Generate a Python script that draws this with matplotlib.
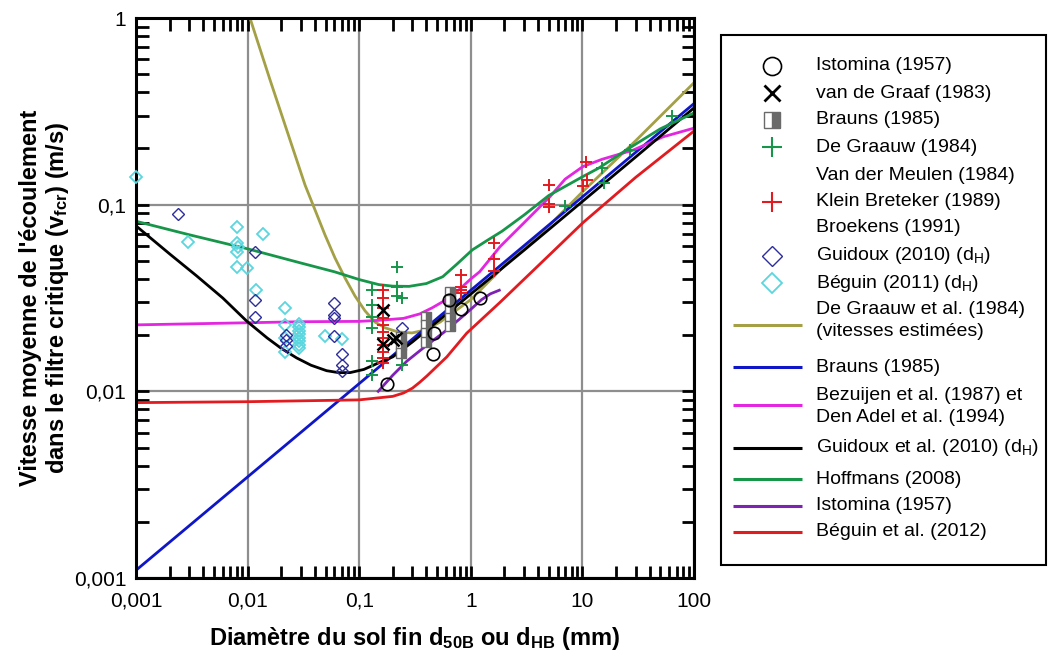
import matplotlib.pyplot as plt
import matplotlib.ticker as ticker
from matplotlib.patches import Rectangle

plt.rcParams['font.family'] = ['Liberation Sans', 'DejaVu Sans']
plt.rcParams['mathtext.fontset'] = 'custom'
plt.rcParams['mathtext.rm'] = 'Liberation Sans'
plt.rcParams['mathtext.it'] = 'Liberation Sans:italic'
plt.rcParams['mathtext.bf'] = 'Liberation Sans:bold'

# --- curves (d in mm, v in m/s) ---
graauw_est_x = [0.0105, 0.0159, 0.024, 0.0327, 0.0402, 0.0494, 0.0607, 0.0746, 0.0917,
                0.1127, 0.1385, 0.1703, 0.2227, 0.2972, 0.3888, 0.53, 0.7, 1, 2, 5, 10, 30, 100]
graauw_est_y = [1.0, 0.4655, 0.2221, 0.1275, 0.0937, 0.0688, 0.0518, 0.0405, 0.0324,
                0.0270, 0.0235, 0.0219, 0.0208, 0.02055, 0.0213, 0.0235, 0.0265, 0.031, 0.047,
                0.077, 0.117, 0.22, 0.45]

brauns_x = [0.001, 100]
brauns_y = [0.0011, 0.348]

bezuijen_x = [0.001, 0.01, 0.03, 0.1, 0.15, 0.25, 0.35, 0.45, 0.56, 0.7, 1.0, 1.2, 1.83, 3,
              5.1, 7, 10.1, 15, 28.5, 53, 100]
bezuijen_y = [0.0227, 0.0233, 0.0236, 0.0237, 0.0240, 0.0246, 0.026, 0.028, 0.0302, 0.0329,
              0.040, 0.0437, 0.0596, 0.08, 0.110, 0.137, 0.160, 0.175, 0.196, 0.231, 0.257]

guidoux_x = [0.001, 0.002, 0.0035, 0.006, 0.0098, 0.015, 0.02, 0.0275, 0.037, 0.051, 0.065,
             0.083, 0.11, 0.153, 0.2, 0.3, 1, 3, 10, 30, 100]
guidoux_y = [0.077, 0.0545, 0.0415, 0.0316, 0.0238, 0.0193, 0.0170, 0.0151, 0.0138, 0.0129,
             0.0126, 0.0126, 0.0131, 0.0143, 0.0153, 0.0184, 0.0332, 0.057, 0.104, 0.18, 0.33]

hoffmans_x = [0.001, 0.003, 0.01, 0.03, 0.06, 0.1, 0.15, 0.2, 0.28, 0.4, 0.56, 0.75, 1.03,
              1.4, 1.9, 3, 5, 10, 14, 26, 50, 100]
hoffmans_y = [0.0815, 0.069, 0.058, 0.0487, 0.0437, 0.0397, 0.0373, 0.0366, 0.0365, 0.0378,
              0.0411, 0.048, 0.0572, 0.0643, 0.072, 0.088, 0.112, 0.141, 0.157, 0.2, 0.255, 0.31]

istomina_line_x = [0.148, 0.2, 0.267, 0.4, 0.567, 0.8, 1.0, 1.25, 1.5, 1.8]
istomina_line_y = [0.0100, 0.0122, 0.0145, 0.0176, 0.0206, 0.0245, 0.0275, 0.031, 0.0333, 0.0348]

beguin12_x = [0.001, 0.01, 0.1, 0.2, 0.25, 0.3, 0.35, 0.405, 0.61, 0.92, 1.83, 5.1, 10.1, 30, 100]
beguin12_y = [0.0087, 0.0088, 0.0090, 0.0094, 0.0098, 0.0104, 0.0112, 0.0121, 0.0153, 0.0205,
              0.030, 0.054, 0.080, 0.14, 0.248]

# --- measurements ---
istomina_pts_x = [0.179, 0.457, 0.468, 0.641, 0.81, 1.2]
istomina_pts_y = [0.0109, 0.0158, 0.0206, 0.0309, 0.0276, 0.0318]

graaf_x = [0.164, 0.162, 0.20, 0.215]
graaf_y = [0.0273, 0.0179, 0.0188, 0.0192]

brauns_pts_x = [0.237, 0.237, 0.237, 0.394, 0.394, 0.394, 0.394,
                0.646, 0.646, 0.646, 0.646, 0.646]
brauns_pts_y = [0.0196, 0.0177, 0.0160, 0.0250, 0.0227, 0.0205, 0.0184,
                0.0341, 0.0309, 0.0273, 0.0247, 0.0224]

graauw_pts_x = [0.13, 0.13, 0.13, 0.13, 0.13, 0.13, 0.22, 0.22, 0.22, 0.24, 0.24,
                6.98, 14.9, 15.5, 26.9, 64]
graauw_pts_y = [0.035, 0.0289, 0.0249, 0.0218, 0.0145, 0.0123, 0.0464, 0.0364, 0.0325,
                0.0316, 0.0139, 0.0984, 0.157, 0.131, 0.196, 0.299]

meulen_x = [0.162, 0.162, 0.162, 0.162, 0.162, 0.162, 0.162, 0.162, 0.162, 0.162, 0.162,
            0.81, 0.81, 0.81, 0.81, 1.6, 1.6, 1.6, 5.06, 5.06, 5.06, 10.07, 10.8, 11.1]
meulen_y = [0.0349, 0.0316, 0.028, 0.0247, 0.0227, 0.0208, 0.0193, 0.0177, 0.0163, 0.0151,
            0.0142, 0.0418, 0.0363, 0.035, 0.0338, 0.0626, 0.051, 0.0441, 0.1275, 0.101,
            0.0968, 0.126, 0.17, 0.136]

guidoux_pts_x = [0.00236, 0.0117, 0.0117, 0.0117, 0.0219, 0.0219, 0.0219, 0.0594, 0.0594,
                 0.0594, 0.0594, 0.0706, 0.0706, 0.0706, 0.24]
guidoux_pts_y = [0.0892, 0.0556, 0.0309, 0.0249, 0.0200, 0.0188, 0.0174, 0.0296, 0.0256,
                 0.0246, 0.0198, 0.0159, 0.0139, 0.0129, 0.0219]

beguin11_x = [0.001, 0.00294, 0.0081, 0.008, 0.0082, 0.0081, 0.0081, 0.0099, 0.0138, 0.0119,
              0.0216, 0.0216, 0.0216, 0.0216, 0.0289, 0.0289, 0.0289, 0.0289, 0.0289, 0.0289,
              0.0289, 0.0289, 0.049, 0.070]
beguin11_y = [0.14, 0.0633, 0.0762, 0.0622, 0.0595, 0.0561, 0.0466, 0.0456, 0.0697, 0.035,
              0.0279, 0.0228, 0.0192, 0.0163, 0.0230, 0.0220, 0.0211, 0.0202, 0.0193, 0.0185,
              0.0177, 0.0170, 0.0197, 0.0190]

x_ticks = [0.001, 0.01, 0.1, 1, 10, 100]
x_ticklabels = ['0,001', '0,01', '0,1', '1', '10', '100']
y_ticks = [0.001, 0.01, 0.1, 1]
y_ticklabels = ['0,001', '0,01', '0,1', '1']

c_olive = '#a3a045'
c_blue = '#0e16c8'
c_pink = '#e326e0'
c_green = '#17964a'
c_purple = '#7d22b3'
c_red = '#e11b1f'
c_navy = '#2d2d9c'
c_cyan = '#5ad6df'
c_gray = '#6a6a6a'

fig = plt.figure(figsize=(10.52, 6.63), dpi=100)
ax = fig.add_axes([136 / 1052, 1 - 578 / 663, 558 / 1052, 560 / 663])
ax.set_xscale('log')
ax.set_yscale('log')

lw = 2.0
ax.plot(graauw_est_x, graauw_est_y, color=c_olive, lw=lw, zorder=2)
ax.plot(brauns_x, brauns_y, color=c_blue, lw=lw, zorder=2)
ax.plot(bezuijen_x, bezuijen_y, color=c_pink, lw=lw, zorder=2)
ax.plot(guidoux_x, guidoux_y, color='black', lw=lw, zorder=2)
ax.plot(hoffmans_x, hoffmans_y, color=c_green, lw=lw, zorder=2)
ax.plot(istomina_line_x, istomina_line_y, color=c_purple, lw=lw, zorder=2)
ax.plot(beguin12_x, beguin12_y, color=c_red, lw=lw, zorder=2)

ax.plot(beguin11_x, beguin11_y, ls='none', marker='D', ms=6, mfc='none', mec=c_cyan,
        mew=1.3, zorder=3, clip_on=False)
ax.plot(guidoux_pts_x, guidoux_pts_y, ls='none', marker='D', ms=6, mfc='none', mec=c_navy,
        mew=1.0, zorder=3)
ax.plot(graauw_pts_x, graauw_pts_y, ls='none', marker='+', ms=9, mec=c_green, mew=1.4, zorder=3)
ax.plot(meulen_x, meulen_y, ls='none', marker='+', ms=9, mec=c_red, mew=1.4, zorder=3)
ax.plot(brauns_pts_x, brauns_pts_y, ls='none', marker='s', ms=7.5, fillstyle='right',
        mfc=c_gray, mfcalt='white', mec=c_gray, mew=1, zorder=3)
ax.plot(graaf_x, graaf_y, ls='none', marker='x', ms=8, mec='black', mew=1.8, zorder=4)
ax.plot(istomina_pts_x, istomina_pts_y, ls='none', marker='o', ms=9, mfc='none', mec='black',
        mew=1.2, zorder=4)

ax.set_xlim(0.001, 100)
ax.set_ylim(0.001, 1)
ax.xaxis.set_major_locator(ticker.FixedLocator(x_ticks))
ax.xaxis.set_major_formatter(ticker.FixedFormatter(x_ticklabels))
ax.yaxis.set_major_locator(ticker.FixedLocator(y_ticks))
ax.yaxis.set_major_formatter(ticker.FixedFormatter(y_ticklabels))
ax.xaxis.set_minor_locator(ticker.LogLocator(base=10, subs=range(2, 10), numticks=20))
ax.yaxis.set_minor_locator(ticker.LogLocator(base=10, subs=range(2, 10), numticks=20))
ax.xaxis.set_minor_formatter(ticker.NullFormatter())
ax.yaxis.set_minor_formatter(ticker.NullFormatter())
ax.tick_params(which='both', direction='in', top=True, right=True, width=2, length=9,
               labelsize=15)
ax.tick_params(axis='x', pad=10)
ax.tick_params(axis='y', pad=7)
ax.grid(True, which='major', color='#8e8e8e', lw=1.6)
ax.set_axisbelow(True)
for s in ax.spines.values():
    s.set_linewidth(2.2)

ax.set_xlabel(r'Diamètre du sol fin d$_\mathbf{50B}$ ou d$_\mathbf{HB}$ (mm)',
              fontsize=17, fontweight='bold', labelpad=10)
ax.set_ylabel("Vitesse moyenne de l'écoulement\n"
              r"dans le filtre critique (v$_\mathbf{fcr}$) (m/s)",
              fontsize=17, fontweight='bold', labelpad=2, linespacing=1.1)

# legend panel drawn by hand, in pixel units of the figure
lg = fig.add_axes([721 / 1052, 1 - 565 / 663, 325 / 1052, 530 / 663])
lg.set_xlim(721, 1046)
lg.set_ylim(565, 35)
lg.axis('off')
lg.add_patch(Rectangle((721, 35), 325, 530, fill=False, ec='black', lw=1.5, clip_on=False))

mx = 772
tx = 816
fs = 14

def label(y, s):
    lg.text(tx, y, s, fontsize=fs, ha='left', va='center')

def sample(y, color):
    lg.plot([733, 802], [y, y], color=color, lw=2.2, solid_capstyle='butt')

lg.plot(mx, 66, marker='o', ms=13, mfc='none', mec='black', mew=1.2)
label(66, 'Istomina (1957)')
lg.plot(mx, 93, marker='x', ms=11, mec='black', mew=2)
label(93, 'van de Graaf (1983)')
lg.plot(mx, 120, marker='s', ms=12, fillstyle='right', mfc=c_gray, mfcalt='white',
        mec=c_gray, mew=1)
label(120, 'Brauns (1985)')
lg.plot(mx, 147, marker='+', ms=15, mec=c_green, mew=1.5)
label(147, 'De Graauw (1984)')
lg.plot(mx, 202, marker='+', ms=15, mec=c_red, mew=1.5)
label(175, 'Van der Meulen (1984)')
label(202, 'Klein Breteker (1989)')
label(228, 'Broekens (1991)')
lg.plot(mx, 256, marker='D', ms=10, mfc='none', mec=c_navy, mew=1)
label(256, r'Guidoux (2010) (d$_\mathrm{H}$)')
lg.plot(mx, 283, marker='D', ms=10, mfc='none', mec=c_cyan, mew=1.3)
label(283, r'Béguin (2011) (d$_\mathrm{H}$)')

sample(325, c_olive)
label(309, 'De Graauw et al. (1984)')
label(332, '(vitesses estimées)')
sample(367, c_blue)
label(367, 'Brauns (1985)')
sample(405, c_pink)
label(395, 'Bezuijen et al. (1987) et')
label(418, 'Den Adel et al. (1994)')
sample(448, 'black')
label(448, r'Guidoux et al. (2010) (d$_\mathrm{H}$)')
sample(479, c_green)
label(479, 'Hoffmans (2008)')
sample(506, c_purple)
label(506, 'Istomina (1957)')
sample(532, c_red)
label(532, 'Béguin et al. (2012)')

plt.savefig('out.png', dpi=100)
